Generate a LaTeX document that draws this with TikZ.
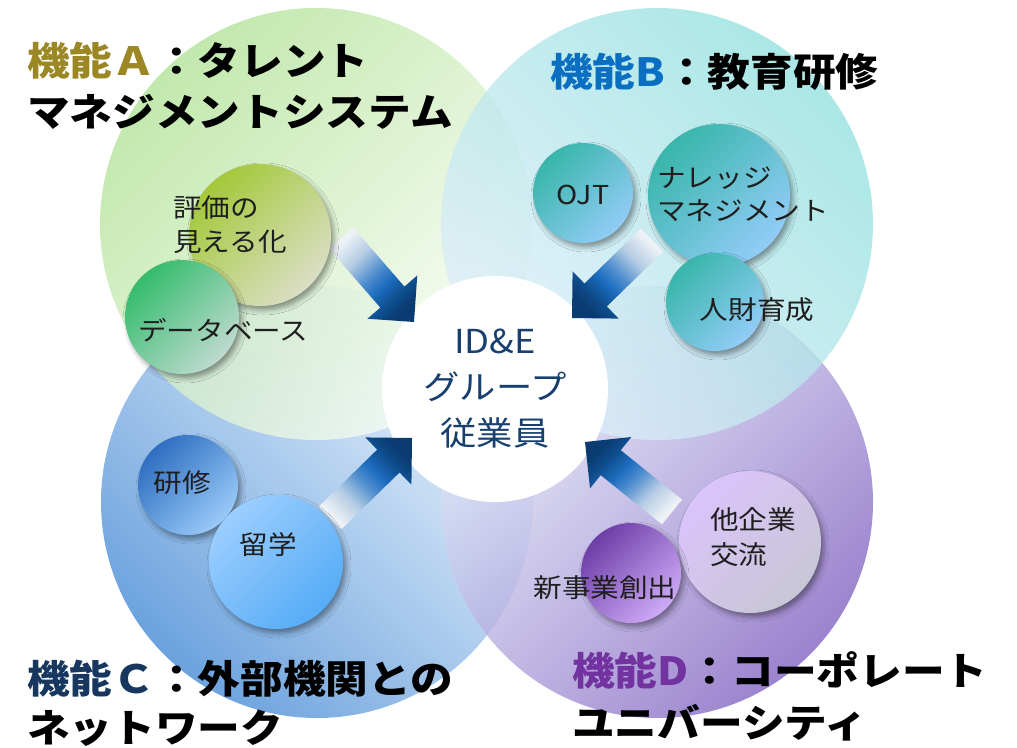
\documentclass[tikz,border=0pt]{standalone}
\usepackage{fontspec}
\newfontfamily\jp[FakeStretch=1.1]{Noto Sans CJK JP}
\usetikzlibrary{calc,shadows.blur}
\definecolor{arrdark}{HTML}{0A3C72}
\definecolor{arrdeep}{HTML}{0F5092}
\definecolor{arrmid}{HTML}{1E6EC0}
\definecolor{arrsoft}{HTML}{4F8ECE}
\definecolor{arrpale}{HTML}{B4CCE4}
\definecolor{arrlight}{HTML}{EEF2F6}
\definecolor{tA}{HTML}{9C8725}
\definecolor{tB}{HTML}{0A6FC0}
\definecolor{tC}{HTML}{17375E}
\definecolor{tD}{HTML}{7232A0}
\definecolor{ctext}{HTML}{17406E}
\definecolor{btext}{HTML}{1E1E1E}
\pgfdeclareverticalshading{arrowgrad}{100bp}{color(0bp)=(arrdark); color(25bp)=(arrdark); color(33bp)=(arrdeep); color(42bp)=(arrmid); color(50bp)=(arrsoft); color(62bp)=(arrpale); color(75bp)=(arrlight); color(100bp)=(arrlight)}
\newcommand\blockarrow[3]{%
  \coordinate (#1base) at ($(#2)!33pt!(#1)$);
  \shade[shading=arrowgrad, shading angle=#3]
    ($(#1)!16pt!90:(#2)$) -- ($(#1base)!16pt!-90:(#1)$) -- ($(#1base)!33pt!-90:(#1)$)
    -- (#2) -- ($(#1base)!33pt!90:(#1)$) -- ($(#1base)!16pt!90:(#1)$)
    -- ($(#1)!16pt!-90:(#2)$) -- cycle;}
\tikzset{
  big/.style={circle, inner sep=0pt, minimum size=432pt, fill opacity=0.78},
  bubble/.style={circle, inner sep=0pt,
    blur shadow={shadow xshift=3pt, shadow yshift=-4pt, shadow blur radius=5pt, shadow opacity=40}},
  title/.style={inner sep=0pt, anchor=west, align=left, text=black,
    font=\jp\bfseries\fontsize{38.8}{51}\selectfont},
  btxt/.style={inner sep=0pt, text=btext, font=\jp\fontsize{26}{34}\selectfont},
}
\begin{document}
\begin{tikzpicture}[x=1pt, y=-1pt]
\useasboundingbox (0,0) rectangle (1017,747);
% big circles
\node[big, top color={rgb,255:red,232;green,242;blue,252}, bottom color={rgb,255:red,66;green,136;blue,212}, shading angle=-45] (cC) at (317,502) {};
\node[big, top color={rgb,255:red,230;green,240;blue,251}, bottom color={rgb,255:red,128;green,96;blue,192}, shading angle=45] (cD) at (657,502) {};
\node[big, top color={rgb,255:red,176;green,226;blue,150}, bottom color={rgb,255:red,250;green,253;blue,246}, shading angle=45] (cA) at (316,224) {};
\node[big, top color={rgb,255:red,146;green,224;blue,222}, bottom color={rgb,255:red,224;green,238;blue,250}, shading angle=-45] (cB) at (657,224) {};
% centre
\node[circle, fill=white, inner sep=0pt, minimum size=226pt] (emp) at (495,389) {};
% arrows
\coordinate (atail) at (341,238); \coordinate (atip) at (414,322);
\coordinate (btail) at (652,240); \coordinate (btip) at (572,318);
\coordinate (ctail) at (330,518); \coordinate (ctip) at (412,438);
\coordinate (dtail) at (672,512); \coordinate (dtip) at (585,442);
\blockarrow{atail}{atip}{45}
\blockarrow{btail}{btip}{-45}
\blockarrow{ctail}{ctip}{135}
\blockarrow{dtail}{dtip}{225}
% bubbles
\node[bubble, minimum size=142pt, top color={rgb,255:red,164;green,200;blue,58}, bottom color={rgb,255:red,218;green,222;blue,196}, shading angle=45] (bHyoka) at (260,235) {};
\node[bubble, minimum size=114pt, top color={rgb,255:red,52;green,188;blue,108}, bottom color={rgb,255:red,190;green,218;blue,208}, shading angle=45] (bDB) at (182,317) {};
\node[bubble, minimum size=100pt, top color={rgb,255:red,56;green,182;blue,170}, bottom color={rgb,255:red,146;green,204;blue,246}, shading angle=45] (bOJT) at (583,193) {};
\node[bubble, minimum size=142pt, top color={rgb,255:red,56;green,182;blue,170}, bottom color={rgb,255:red,146;green,204;blue,248}, shading angle=45] (bKM) at (719,195) {};
\node[bubble, minimum size=98pt, top color={rgb,255:red,56;green,182;blue,170}, bottom color={rgb,255:red,146;green,204;blue,248}, shading angle=45] (bJinzai) at (715,302) {};
\node[bubble, minimum size=100pt, top color={rgb,255:red,46;green,110;blue,192}, bottom color={rgb,255:red,154;green,202;blue,248}, shading angle=45] (bKenshu) at (188,485) {};
\node[bubble, minimum size=134pt, top color={rgb,255:red,156;green,206;blue,255}, bottom color={rgb,255:red,86;green,172;blue,246}, shading angle=45] (bRyugaku) at (276,562) {};
\node[bubble, minimum size=142pt, top color={rgb,255:red,218;green,196;blue,250}, bottom color={rgb,255:red,200;green,198;blue,214}, shading angle=45] (bTakigyo) at (750,542) {};
\node[bubble, minimum size=100pt, top color={rgb,255:red,110;green,62;blue,168}, bottom color={rgb,255:red,206;green,170;blue,246}, shading angle=45] (bShin) at (631,573) {};
% centre text
\node[inner sep=0pt, align=center, text=ctext, font=\jp\fontsize{33}{46}\selectfont] (empText) at (495,389) {ID\&E\\グループ\\従業員};
% bubble texts
\node[btxt, anchor=west, align=left] (tHyoka) at (173,225) {評価の\\見える化};
\node[btxt, anchor=west] (tDB) at (138,330) {データベース};
\node[btxt] (tOJT) at (583,195) {OJT};
\node[btxt, anchor=west, align=left, font=\jp\fontsize{26}{33}\selectfont] (tKM) at (657,194.5) {ナレッジ\\マネジメント};
\node[btxt] (tJinzai) at (757,310) {人財育成};
\node[btxt] (tKenshu) at (182,483) {研修};
\node[btxt] (tRyugaku) at (268,545) {留学};
\node[btxt] (tShin) at (605,588) {新事業創出};
\node[btxt, anchor=west, align=left, font=\jp\fontsize{26}{35}\selectfont] (tTakigyo) at (710,537.5) {他企業\\交流};
% titles
\node[title] (titA) at (27,85.5) {\textcolor{tA}{機能Ａ}：タレント\\マネジメントシステム};
\node[title] (titB) at (550,72) {\textcolor{tB}{機能B}：教育研修};
\node[title, font=\jp\bfseries\fontsize{38.8}{49}\selectfont] (titC) at (27,703.5) {\textcolor{tC}{機能Ｃ}：外部機関との\\ネットワーク};
\node[title, font=\jp\bfseries\fontsize{38.8}{52}\selectfont] (titD) at (572,696) {\textcolor{tD}{機能D}：コーポレート\\ユニバーシティ};
\end{tikzpicture}
\end{document}
